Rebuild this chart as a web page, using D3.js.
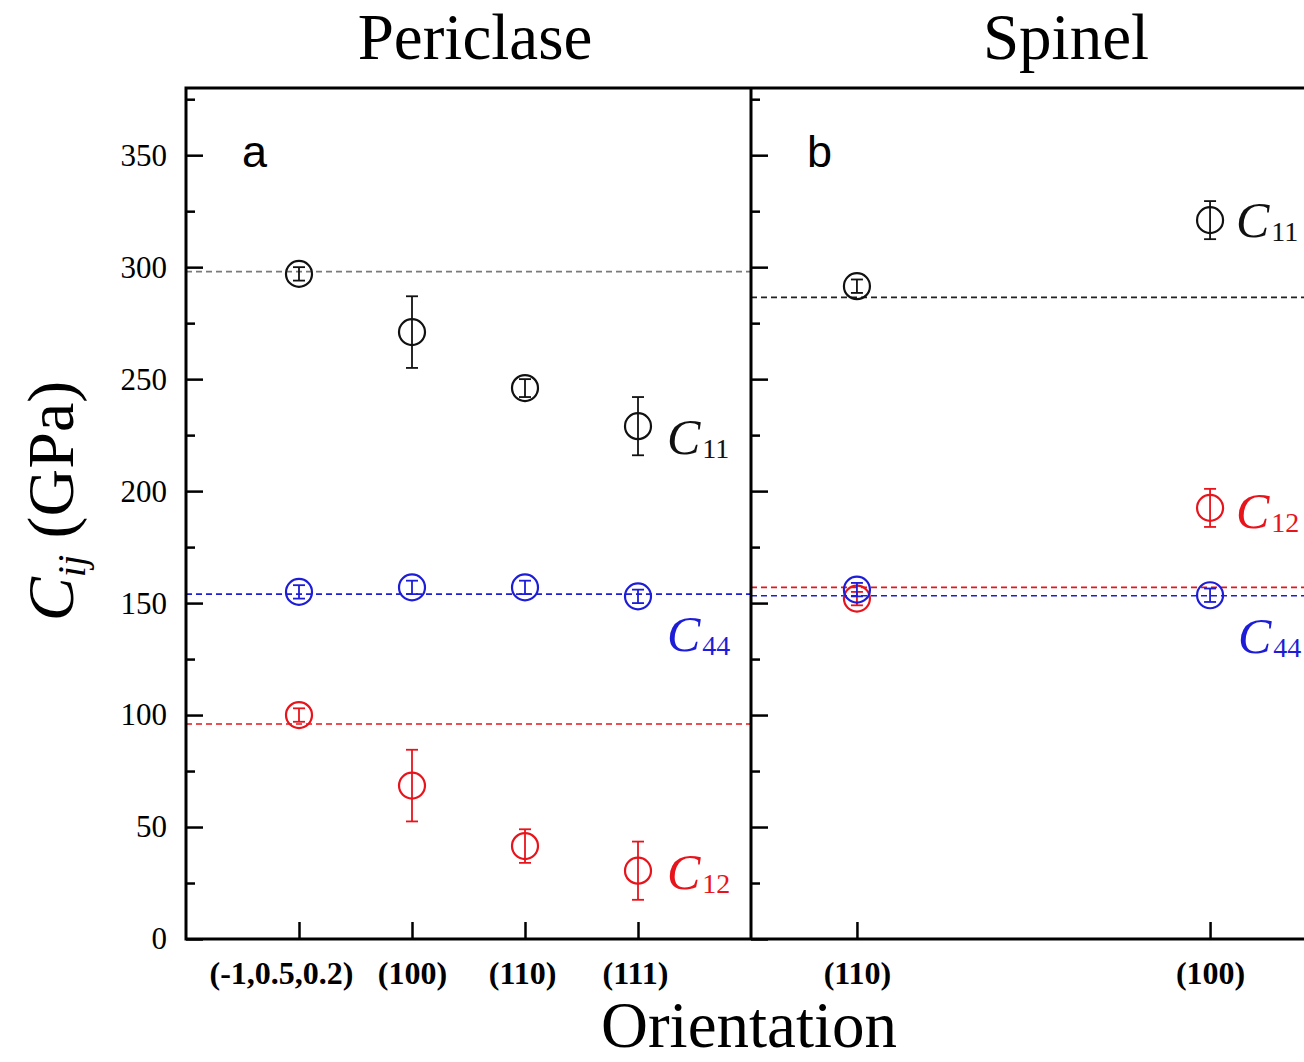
<!DOCTYPE html>
<html>
<head>
<meta charset="utf-8">
<script src="https://cdn.jsdelivr.net/npm/d3@7"></script>
<style>
  html, body { margin: 0; padding: 0; background: #fff; }
  svg { display: block; }
  .tick line { stroke: #000; stroke-width: 2.5; }
  .serif { font-family: "Liberation Serif", "Times New Roman", serif; }
</style>
</head>
<body>
<svg id="chart" width="1304" height="1062"></svg>
<script>
// ---- data ----
const yMajorTicks = [0, 50, 100, 150, 200, 250, 300, 350];
const yMinorTicks = [25, 75, 125, 175, 225, 275, 325, 375];

const seriesNames = ["C11", "C12", "C44"];
const seriesSubs = ["11", "12", "44"];
const seriesColors = ["#111111", "#e8141c", "#1d1dd8"];
const refLineColorsPericlase = ["#7a7a7a", "#e8141c", "#1d1dd8"];
const refLineColorsSpinel = ["#222222", "#e8141c", "#1d1dd8"];

// Periclase panel
const periclaseOrient = ["(-1,0.5,0.2)", "(100)", "(110)", "(111)"];
const periclaseC11 = [297, 271, 246, 229];
const periclaseC11Err = [3, 16, 4, 13];
const periclaseC12 = [100, 68.5, 41.5, 30.5];
const periclaseC12Err = [3, 16, 7.5, 13];
const periclaseC44 = [155, 157, 157, 153];
const periclaseC44Err = [3, 3, 3, 3];
const periclaseRef = [298, 96, 154];          // C11, C12, C44 reference values

// Spinel panel
const spinelOrient = ["(110)", "(100)"];
const spinelC11 = [291.5, 321];
const spinelC11Err = [3, 8.5];
const spinelC12 = [152, 192.5];
const spinelC12Err = [3, 8.5];
const spinelC44 = [156, 153.5];
const spinelC44Err = [3, 3];
const spinelRef = [286.5, 157, 153.3];        // C11, C12, C44 reference values

// ---- layout ----
const svg = d3.select("#chart");
const plotTop = 88, plotBottom = 939;
const leftX0 = 186, leftX1 = 751;
const rightX0 = 751, rightX1 = 1316;

const y = d3.scaleLinear().domain([0, 380]).range([plotBottom, plotTop]);
const xP = d3.scaleLinear().domain([0, 5]).range([leftX0, leftX1]);
const xS = d3.scaleLinear().domain([0.7, 2.3]).range([rightX0, rightX1]);

function yAxes(x0, withLabels) {
  const gMaj = svg.append("g").attr("transform", `translate(${x0},0)`)
    .call(d3.axisLeft(y).tickValues(yMajorTicks).tickSize(-17).tickPadding(19)
      .tickFormat(withLabels ? d3.format("d") : () => ""));
  gMaj.select(".domain").remove();
  gMaj.selectAll("text").attr("class", "serif").style("font-size", "31px")
    .attr("fill", "#000");
  const gMin = svg.append("g").attr("transform", `translate(${x0},0)`)
    .call(d3.axisLeft(y).tickValues(yMinorTicks).tickSize(-9).tickFormat(() => ""));
  gMin.select(".domain").remove();
}

function xAxis(x, labels, shifts) {
  const g = svg.append("g").attr("transform", `translate(0,${plotBottom})`)
    .call(d3.axisBottom(x).tickValues(labels.map((d, i) => i + 1))
      .tickSize(-17).tickPadding(22).tickFormat((d) => labels[d - 1]));
  g.select(".domain").remove();
  g.selectAll("text").attr("class", "serif").style("font-size", "32px")
    .style("font-weight", "bold").attr("fill", "#000")
    .attr("dx", (d) => shifts ? shifts[d - 1] : 0);
}

function refLines(x0, x1, values, colors) {
  values.forEach((v, i) => {
    svg.append("line")
      .attr("x1", x0).attr("x2", x1)
      .attr("y1", y(v)).attr("y2", y(v))
      .attr("stroke", colors[i]).attr("stroke-width", 1.6)
      .attr("stroke-dasharray", "6,4");
  });
}

function points(x, vals, errs, color) {
  const g = svg.append("g").attr("stroke", color).attr("fill", "none");
  vals.forEach((v, i) => {
    const cx = x(i + 1);
    const yt = y(v + errs[i]), yb = y(v - errs[i]);
    g.append("line").attr("x1", cx).attr("x2", cx).attr("y1", yt).attr("y2", yb)
      .attr("stroke-width", 1.8);
    [yt, yb].forEach(yy => g.append("line")
      .attr("x1", cx - 6).attr("x2", cx + 6).attr("y1", yy).attr("y2", yy)
      .attr("stroke-width", 1.8));
    g.append("circle").attr("cx", cx).attr("cy", y(v)).attr("r", 13)
      .attr("stroke-width", 2.2);
  });
}

function seriesLabel(xPos, yBase, idx) {
  const t = svg.append("text").attr("class", "serif")
    .attr("x", xPos).attr("y", yBase).attr("fill", seriesColors[idx]);
  t.append("tspan").style("font-style", "italic").style("font-size", "50px").text("C");
  t.append("tspan").attr("dx", 2).attr("dy", 4).style("font-size", "28px").text(seriesSubs[idx]);
}

// reference (dashed) lines
refLines(leftX0, leftX1, periclaseRef, refLineColorsPericlase);
refLines(rightX0, rightX1, spinelRef, refLineColorsSpinel);

// axes
yAxes(leftX0, true);
yAxes(rightX0, false);
xAxis(xP, periclaseOrient, [-18, 0, -3, -3]);
xAxis(xS, spinelOrient, null);

// frame
const frame = svg.append("g").attr("stroke", "#000").attr("stroke-width", 3).attr("fill", "none");
frame.append("path").attr("d",
  `M${rightX1},${plotTop} H${leftX0} V${plotBottom} H${rightX1}`);
frame.append("line").attr("x1", leftX1).attr("x2", leftX1).attr("y1", plotTop).attr("y2", plotBottom);

// data points with error bars
points(xP, periclaseC11, periclaseC11Err, seriesColors[0]);
points(xP, periclaseC12, periclaseC12Err, seriesColors[1]);
points(xP, periclaseC44, periclaseC44Err, seriesColors[2]);
points(xS, spinelC11, spinelC11Err, seriesColors[0]);
points(xS, spinelC12, spinelC12Err, seriesColors[1]);
points(xS, spinelC44, spinelC44Err, seriesColors[2]);

// series labels
seriesLabel(667, 454, 0);
seriesLabel(667, 651, 2);
seriesLabel(667, 889, 1);
seriesLabel(1236, 237, 0);
seriesLabel(1236, 528, 1);
seriesLabel(1238, 653, 2);

// panel letters
svg.append("text").attr("x", 242).attr("y", 167)
  .style("font-family", "'Liberation Sans', Arial, sans-serif").style("font-size", "45px")
  .text("a");
svg.append("text").attr("x", 807).attr("y", 167)
  .style("font-family", "'Liberation Sans', Arial, sans-serif").style("font-size", "45px")
  .text("b");

// panel titles
svg.append("text").attr("class", "serif").attr("x", 475).attr("y", 59)
  .attr("text-anchor", "middle").style("font-size", "65px").text("Periclase");
svg.append("text").attr("class", "serif").attr("x", 1066).attr("y", 59)
  .attr("text-anchor", "middle").style("font-size", "65px").text("Spinel");

// axis titles
svg.append("text").attr("class", "serif").attr("x", 749).attr("y", 1047)
  .attr("text-anchor", "middle").style("font-size", "65px").text("Orientation");

const yTitle = svg.append("text").attr("class", "serif")
  .attr("transform", "translate(73,501) rotate(-90)")
  .attr("text-anchor", "middle").style("font-size", "66px");
yTitle.append("tspan").style("font-style", "italic").text("C");
yTitle.append("tspan").style("font-style", "italic").style("font-size", "40px")
  .attr("dy", 12).text("ij");
yTitle.append("tspan").attr("dy", -12).text(" (GPa)");
</script>
</body>
</html>
